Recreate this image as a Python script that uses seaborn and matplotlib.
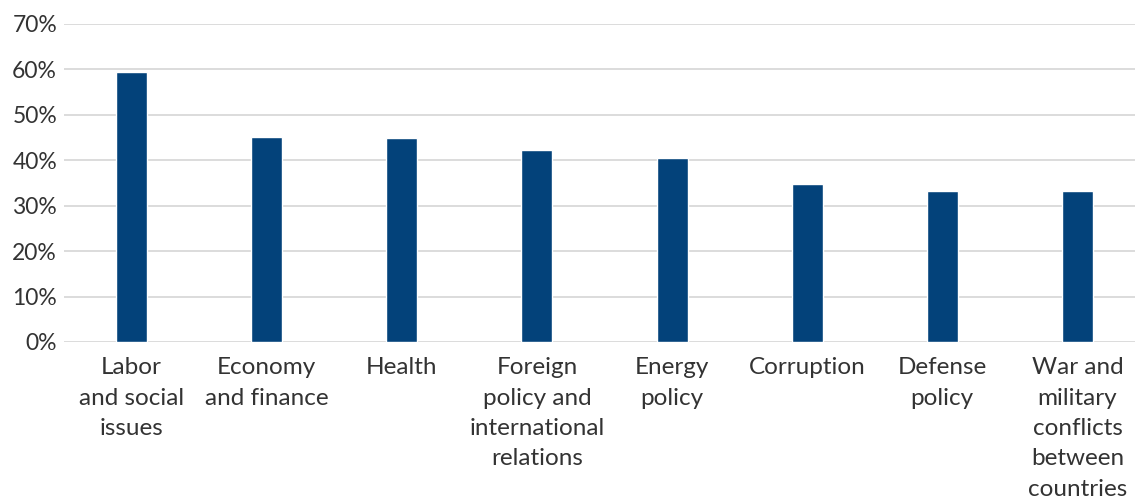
import matplotlib
matplotlib.use("Agg")
import matplotlib.pyplot as plt
import seaborn as sns
import pandas as pd
from matplotlib.ticker import PercentFormatter

categories = [
    "Labor\nand social\nissues",
    "Economy\nand finance",
    "Health",
    "Foreign\npolicy and\ninternational\nrelations",
    "Energy\npolicy",
    "Corruption",
    "Defense\npolicy",
    "War and\nmilitary\nconflicts\nbetween\ncountries",
]
values = [59.4, 45.1, 44.9, 42.3, 40.5, 34.8, 33.3, 33.3]
y_ticks = [0, 10, 20, 30, 40, 50, 60, 70]

df = pd.DataFrame({"category": categories, "value": values})

sns.set_theme(style="white")
plt.rcParams["font.family"] = ["Lato", "DejaVu Sans"]
text_color = "#333333"

fig = plt.figure(figsize=(11.35, 5.0), dpi=100)
ax = fig.add_axes([64 / 1135, 1 - 342 / 500, (1145 - 64) / 1135, (342 - 24) / 500])

sns.barplot(data=df, x="category", y="value", color="#03427A", width=0.23,
            saturation=1, ax=ax, zorder=3)

ax.set_ylim(0, 70)
ax.set_yticks(y_ticks)
ax.yaxis.set_major_formatter(PercentFormatter(decimals=0))
ax.grid(axis="y", color="#d9d9d9", linewidth=1.3, zorder=0)
ax.set_axisbelow(True)
for s in ax.spines.values():
    s.set_visible(False)
ax.tick_params(axis="y", length=0, labelsize=16.5, colors=text_color, pad=5)
ax.tick_params(axis="x", length=0, labelsize=17.5, colors=text_color, pad=11)
for lbl in ax.get_xticklabels():
    lbl.set_linespacing(1.55)
    lbl.set_verticalalignment("top")
ax.set_xlabel("")
ax.set_ylabel("")
ax.set_xlim(-0.5, len(categories) - 0.5)

fig.savefig("out.png", dpi=100)
